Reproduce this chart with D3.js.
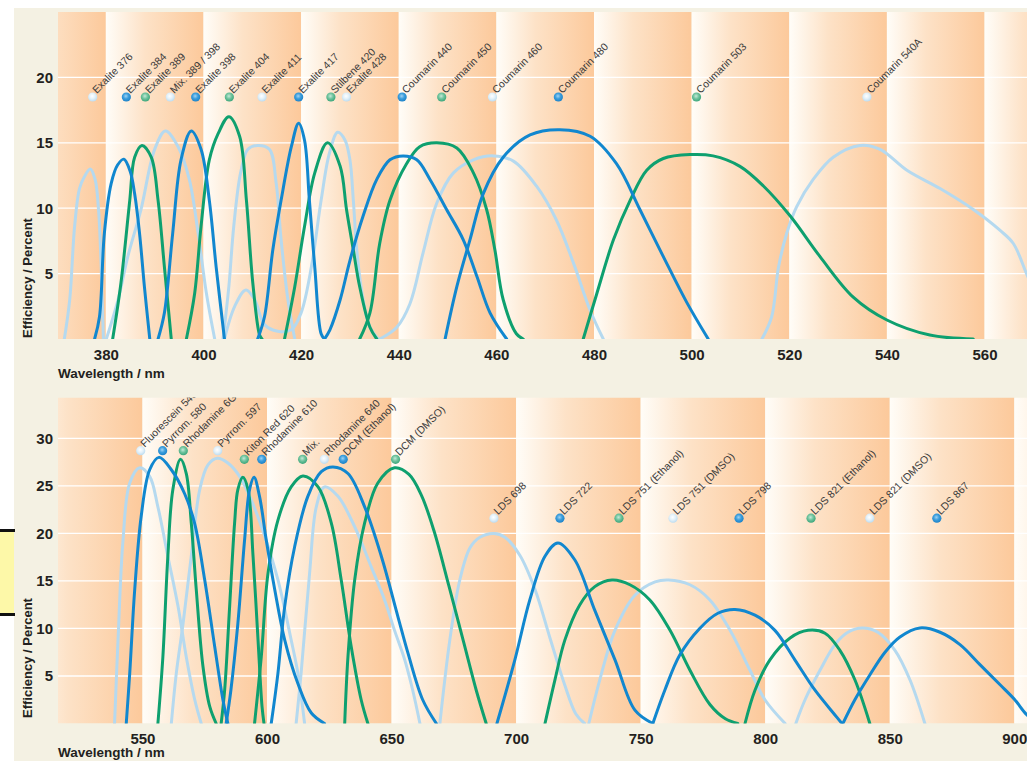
<!DOCTYPE html>
<html><head><meta charset="utf-8">
<script src="https://cdn.jsdelivr.net/npm/d3@7"></script>
<style>html,body{margin:0;padding:0;background:#fff;} svg{display:block;}</style>
</head><body>
<svg id="chart" width="1027" height="761"></svg>
<script>
// ---------------- DATA ----------------
// Top panel (wavelength nm, efficiency %)
const exalite376 = [[371.5,0],[372.6,3.0],[373.6,8.6],[374.6,11.5],[375.6,12.4],[376.8,13.0],[377.8,12.2],[378.5,9.9],[379.0,6.0],[379.5,0]];
const exalite384 = [[377.7,0],[378.7,1.7],[379.7,8.1],[381.1,11.9],[382.4,13.3],[383.7,13.75],[385.0,12.8],[385.9,11.1],[386.9,8.1],[387.9,4.0],[389.0,0]];
const exalite389 = [[381.4,0],[383.1,4.3],[384.9,10.6],[385.9,13.9],[387.4,14.8],[389.3,13.9],[390.7,10.6],[392.0,5.5],[393.4,0]];
const mix389398 = [[380.1,0],[382.5,3.0],[384.5,6.3],[387.2,9.9],[390.0,14.5],[392.2,15.9],[394.8,14.7],[397.1,12.2],[398.9,8.1],[400.6,3.5],[402.3,0]];
const exalite398 = [[390.7,0],[392.0,2.0],[393.7,8.1],[395.4,13.7],[397.5,15.9],[399.5,14.5],[401.2,10.6],[402.6,5.5],[404.3,0]];
const exalite404 = [[396.5,0],[398.2,3.5],[399.5,8.6],[401.2,13.7],[403.0,15.7],[405.2,17.0],[407.4,15.5],[408.8,10.6],[410.1,4.3],[411.5,0.3],[412.0,0]];
const exalite411 = [[404.0,0],[405.2,4.0],[406.2,8.6],[407.6,12.7],[409.1,14.5],[411.1,14.8],[413.5,14.5],[414.9,11.9],[415.9,7.6],[417.3,3.0],[418.7,0]];
const exalite417 = [[411.1,0],[412.5,1.7],[414.2,6.8],[415.9,10.6],[418.0,14.7],[419.5,16.5],[420.7,15.2],[421.7,10.6],[422.8,5.5],[424.1,0.4],[424.8,0]];
const stilbene420 = [[416.6,0],[418.7,4.0],[420.7,8.6],[422.8,12.7],[425.4,15.0],[428.0,13.2],[429.3,9.9],[430.7,6.8],[432.0,4.0],[434.1,0.9],[435.5,0]];
const exalite428 = [[404.3,0],[406.4,2.5],[408.7,3.75],[410.5,3.0],[412.5,1.1],[415.2,0.6],[418.0,0.7],[420.0,2.0],[422.1,5.5],[424.1,10.6],[425.8,14.2],[427.5,15.8],[429.0,15.2],[430.0,13.7],[430.7,10.6],[431.4,6.8],[432.7,3.0],[434.1,0.9],[435.8,0]];
const coumarin440 = [[424.8,0],[425.9,0.7],[428.0,3.0],[430.0,6.0],[432.7,9.4],[435.5,12.2],[438.2,13.7],[440.9,14.0],[443.7,13.7],[446.4,12.2],[449.8,9.9],[453.2,7.6],[456.0,4.8],[458.7,2.0],[462.1,0]];
const coumarin450 = [[432.0,0],[434.1,2.0],[436.1,7.3],[438.2,10.6],[441.6,13.4],[444.3,14.7],[447.8,15.0],[451.9,14.6],[455.3,12.7],[458.0,9.9],[459.7,6.8],[461.4,3.0],[464.1,0.4],[465.5,0]];
const coumarin460 = [[436.1,0],[439.6,0.9],[442.3,2.7],[445.0,6.6],[447.8,10.4],[451.2,12.7],[455.3,13.7],[459.4,14.0],[463.5,13.6],[468.2,11.7],[472.3,9.1],[475.8,5.8],[479.2,2.2],[481.9,0]];
const coumarin480 = [[449.5,0],[451.9,4.0],[454.6,7.6],[457.3,11.1],[461.4,13.9],[466.9,15.6],[473.0,16.0],[479.2,15.5],[484.6,13.4],[489.4,9.9],[494.2,6.3],[499.0,2.8],[503.4,0]];
const coumarin503 = [[477.8,0],[480.6,3.5],[484.0,7.6],[487.4,10.6],[490.8,12.9],[494.2,13.8],[499.7,14.1],[504.4,14.0],[509.9,13.2],[514.7,11.7],[520.2,9.4],[526.3,6.3],[533.1,3.2],[540.0,1.45],[548.8,0.3],[557.7,0]];
const coumarin540A = [[514.4,0],[516.4,1.7],[517.8,5.5],[519.5,8.1],[521.5,10.1],[524.9,12.2],[529.0,13.9],[534.5,14.8],[538.6,14.5],[544.1,12.9],[550.9,11.5],[557.7,9.9],[563.2,8.3],[565.9,7.3],[568.6,5.0],[572.0,2.0]];

// Bottom panel
const fluorescein548 = [[538.8,0],[540.2,8.8],[542.2,19.3],[544.9,25.3],[548.9,26.9],[552.9,26.0],[556.2,22.8],[560.2,17.6],[564.3,12.3],[567.6,7.0],[571.0,2.5],[573.6,0]];
const pyrromethene580 = [[543.5,0],[544.9,5.3],[546.9,14.1],[549.5,21.8],[552.9,26.7],[556.6,28.0],[561.6,26.7],[566.9,24.2],[570.9,21.1],[575.0,15.1],[579.0,8.1],[582.3,2.5],[584.3,0]];
const rhodamine6G = [[556.2,0],[558.2,7.0],[560.2,17.6],[562.2,24.6],[565.3,27.8],[567.6,26.3],[569.6,21.1],[571.6,14.1],[574.3,6.0],[577.0,1.8],[579.6,0]];
const pyrromethene597 = [[561.6,0],[563.6,5.3],[566.3,10.5],[569.6,17.6],[573.0,24.6],[576.3,27.2],[580.0,27.9],[584.3,27.4],[589.0,26.0],[593.7,23.5],[599.1,19.7],[604.4,15.1],[609.7,8.8],[612.4,5.3],[615.1,0]];
const kitonRed620 = [[581.6,0],[583.0,3.5],[585.0,12.3],[587.0,21.1],[588.3,24.6],[590.3,25.9],[592.4,24.6],[594.4,17.6],[596.4,8.8],[598.0,1.8],[598.8,0]];
const rhodamine610 = [[583.6,0],[585.5,3.5],[588.3,10.5],[591.0,19.3],[593.0,24.6],[594.8,25.9],[597.0,23.9],[599.7,19.3],[603.1,14.1],[607.1,8.8],[612.4,4.2],[617.8,1.1],[623.1,0]];
const mixRed = [[595.0,0],[597.7,7.0],[600.4,15.8],[604.4,21.4],[609.7,24.9],[614.4,26.05],[620.5,24.9],[625.8,21.1],[629.8,15.1],[633.8,8.1],[637.8,2.5],[640.5,0]];
const rhodamine640 = [[611.7,0],[613.7,5.3],[617.1,15.8],[619.8,22.8],[623.1,24.9],[628.5,23.9],[635.2,20.7],[641.8,16.5],[647.2,13.0],[651.2,9.8],[655.3,6.7],[658.5,3.5],[661.4,0]];
const dcmEthanol = [[601.7,0],[604.4,5.3],[607.1,12.3],[611.1,18.6],[616.4,23.9],[621.8,26.5],[626.5,27.0],[632.5,26.3],[639.2,22.8],[645.9,17.6],[652.6,11.2],[656.6,7.4],[662.5,2.5],[668.0,0]];
const dcmDMSO = [[631.2,0],[632.5,7.0],[635.2,15.1],[639.2,21.1],[644.5,25.3],[651.2,26.9],[657.0,26.2],[662.0,24.0],[667.0,20.3],[673.0,14.5],[679.0,8.5],[684.0,3.5],[688.0,0]];
const lds698 = [[669.4,0],[673.4,8.8],[677.4,15.1],[681.5,18.5],[685.5,19.6],[691.1,20.0],[695.5,19.6],[701.5,17.7],[707.6,14.1],[713.6,9.0],[719.6,4.0],[724.0,1.0],[727.5,0]];
const lds722 = [[692.3,0],[699.5,6.7],[705.5,13.0],[711.6,17.6],[716.8,19.0],[723.6,17.2],[731.6,11.9],[739.7,6.7],[747.7,1.4],[754.9,0]];
const lds751Ethanol = [[711.6,0],[715.6,4.6],[719.6,8.8],[725.6,12.5],[731.6,14.4],[738.5,15.1],[745.7,14.6],[753.7,13.0],[761.8,9.8],[769.8,5.6],[777.8,2.0],[784.0,0.5],[789.0,0]];
const lds751DMSO = [[729.2,0],[733.6,4.6],[739.7,9.8],[747.7,13.5],[755.8,14.9],[761.2,15.1],[769.8,14.6],[777.8,13.0],[785.9,9.8],[793.9,5.6],[799.9,2.5],[808.0,0]];
const lds798 = [[754.9,0],[759.7,3.5],[765.7,7.2],[773.7,10.0],[781.0,11.6],[787.9,12.0],[795.9,11.4],[803.9,9.8],[811.9,6.7],[820.0,3.5],[828.0,0.9],[830.8,0]];
const lds821Ethanol = [[791.9,0],[795.9,3.5],[801.9,6.7],[810.0,9.0],[817.2,9.8],[824.0,9.5],[830.0,7.7],[836.0,4.6],[842.0,0]];
const lds821DMSO = [[812.3,0],[816.0,2.5],[822.0,5.6],[828.0,8.3],[833.2,9.6],[838.9,10.05],[845.2,9.6],[852.1,7.7],[858.1,4.6],[864.1,0]];
const lds867 = [[831.2,0],[836.0,2.5],[842.0,5.1],[848.1,7.5],[854.1,9.1],[862.1,10.05],[870.2,9.6],[878.2,8.3],[886.2,6.2],[894.2,4.1],[900.2,2.5],[905.1,0.9],[910.0,0]];

// Series lists with colour type (LB = light blue, DB = dark blue, G = green)
const topSeries = [
  [exalite376,"LB"],[mix389398,"LB"],[exalite411,"LB"],[exalite428,"LB"],[coumarin460,"LB"],[coumarin540A,"LB"],
  [exalite389,"G"],[exalite404,"G"],[stilbene420,"G"],[coumarin450,"G"],[coumarin503,"G"],
  [exalite384,"DB"],[exalite398,"DB"],[exalite417,"DB"],[coumarin440,"DB"],[coumarin480,"DB"]
];
const bottomSeries = [
  [fluorescein548,"LB"],[pyrromethene597,"LB"],[rhodamine640,"LB"],[lds698,"LB"],[lds751DMSO,"LB"],[lds821DMSO,"LB"],
  [rhodamine6G,"G"],[kitonRed620,"G"],[mixRed,"G"],[dcmDMSO,"G"],[lds751Ethanol,"G"],[lds821Ethanol,"G"],
  [pyrromethene580,"DB"],[rhodamine610,"DB"],[dcmEthanol,"DB"],[lds722,"DB"],[lds798,"DB"],[lds867,"DB"]
];

// Marker labels
const topMarkerNames = ["Exalite 376","Exalite 384","Exalite 389","Mix. 389 / 398","Exalite 398","Exalite 404","Exalite 411","Exalite 417","Stilbene 420","Exalite 428","Coumarin 440","Coumarin 450","Coumarin 460","Coumarin 480","Coumarin 503","Coumarin 540A"];
const topMarkerNm = [377.3,384.2,388.1,393.2,398.4,405.3,412.0,419.5,426.1,429.3,440.7,448.8,459.2,472.7,501.0,535.9];
const topMarkerLevel = [18.5,18.5,18.5,18.5,18.5,18.5,18.5,18.5,18.5,18.5,18.5,18.5,18.5,18.5,18.5,18.5];
const topMarkerType = ["LB","DB","G","LB","DB","G","LB","DB","G","LB","DB","G","LB","DB","G","LB"];

const bottomMarkerNames = ["Fluorescein 548","Pyrrom. 580","Rhodamine 6G","Pyrrom. 597","Kiton Red 620","Rhodamine 610","Mix.","Rhodamine 640","DCM (Ethanol)","DCM (DMSO)","LDS 698","LDS 722","LDS 751 (Ethanol)","LDS 751 (DMSO)","LDS 798","LDS 821 (Ethanol)","LDS 821 (DMSO)","LDS 867"];
const bottomMarkerNm = [549.3,558.1,566.4,580.2,590.9,597.9,614.3,623.0,630.6,651.6,691.1,717.6,741.3,763.0,789.5,818.4,842.0,868.9];
const bottomMarkerLevel = [28.7,28.7,28.7,28.7,27.8,27.8,27.8,27.8,27.8,27.8,21.6,21.6,21.6,21.6,21.6,21.6,21.6,21.6];
const bottomMarkerType = ["LB","DB","G","LB","G","DB","G","LB","DB","G","LB","DB","G","LB","DB","G","LB","DB"];

// Axis ticks
const topXTicks = [380,400,420,440,460,480,500,520,540,560];
const topYTicks = [5,10,15,20];
const bottomXTicks = [550,600,650,700,750,800,850,900];
const bottomYTicks = [5,10,15,20,25,30];

// ---------------- DRAW ----------------
const lineColor = {LB:"#b5d9ef", DB:"#1187cf", G:"#0ea06f"};
const dotStops = {LB:["#ffffff","#e4f1f9","#bcdcf0"], DB:["#9fd2f3","#3a9ddc","#1c82c8"], G:["#c4e9d7","#6fc39d","#3aa57a"]};
const FONT = "'Liberation Sans', Arial, sans-serif";

const svg = d3.select("#chart");
const defs = svg.append("defs");
const bg = defs.append("linearGradient").attr("id","band").attr("x1","0").attr("x2","1").attr("y1","0").attr("y2","0");
bg.append("stop").attr("offset","0%").attr("stop-color","#fffdf8");
bg.append("stop").attr("offset","40%").attr("stop-color","#fde2c7");
bg.append("stop").attr("offset","100%").attr("stop-color","#fcc99b");
Object.keys(dotStops).forEach(k => {
  const g = defs.append("radialGradient").attr("id","dot-"+k).attr("cx","45%").attr("cy","40%").attr("r","60%");
  g.append("stop").attr("offset","0%").attr("stop-color",dotStops[k][0]);
  g.append("stop").attr("offset","50%").attr("stop-color",dotStops[k][1]);
  g.append("stop").attr("offset","100%").attr("stop-color",dotStops[k][2]);
});

svg.append("rect").attr("width",1027).attr("height",761).attr("fill","#ffffff");
svg.append("rect").attr("x",14).attr("y",8).attr("width",1013).attr("height",753).attr("fill","#f4f1e3");
// yellow side box
svg.append("rect").attr("x",0).attr("y",530).attr("width",14).attr("height",85).attr("fill","#fdf8a8");
svg.append("rect").attr("x",0).attr("y",529).attr("width",15).attr("height",3).attr("fill","#111");
svg.append("rect").attr("x",0).attr("y",613).attr("width",15).attr("height",3).attr("fill","#111");

function panel(cfg, id) {
  const xs = d3.scaleLinear().domain(cfg.xDomain).range([58, 1027]);
  const ys = d3.scaleLinear().domain([0, cfg.yMax]).range([cfg.bottom, cfg.top]);
  defs.append("clipPath").attr("id","clip"+id).append("rect")
    .attr("x",58).attr("y",cfg.top).attr("width",1027-58).attr("height",cfg.bottom-cfg.top);
  const g = svg.append("g");
  const plot = g.append("g").attr("clip-path","url(#clip"+id+")");
  const bands = d3.range(cfg.bandStart, cfg.xDomain[1], cfg.bandStep);
  plot.selectAll("rect.band").data(bands).join("rect").attr("class","band")
    .attr("x", d => xs(d)).attr("y", cfg.top)
    .attr("width", d => xs(d + cfg.bandStep) - xs(d)).attr("height", cfg.bottom - cfg.top)
    .attr("fill","url(#band)");
  plot.selectAll("line.grid").data(cfg.yTicks).join("line").attr("class","grid")
    .attr("x1",58).attr("x2",1027).attr("y1", d => ys(d)).attr("y2", d => ys(d))
    .attr("stroke","#ffffff").attr("stroke-width",1.3);
  const line = d3.line().x(d => xs(d[0])).y(d => ys(d[1])).curve(d3.curveCatmullRom.alpha(0.5));
  plot.selectAll("path.curve").data(cfg.series).join("path").attr("class","curve")
    .attr("d", d => line(d[0])).attr("fill","none")
    .attr("stroke", d => lineColor[d[1]]).attr("stroke-width",3)
    .attr("stroke-linejoin","round").attr("stroke-linecap","round");
  const markers = cfg.names.map((n,i) => ({name:n, nm:cfg.nm[i], lvl:cfg.lvl[i], type:cfg.type[i]}));
  const mg = plot.selectAll("g.mk").data(markers).join("g").attr("class","mk")
    .attr("transform", d => `translate(${xs(d.nm)},${ys(d.lvl)})`);
  mg.append("text").attr("transform","translate(4,-3) rotate(-45)")
    .attr("font-family",FONT).attr("font-size",10.5).attr("fill","#3b3b3b").text(d => d.name);
  mg.append("circle").attr("r",4.6).attr("fill", d => "url(#dot-"+d.type+")");

  const xa = g.append("g").attr("transform",`translate(0,${cfg.bottom})`)
    .call(d3.axisBottom(xs).tickValues(cfg.xTicks).tickSize(0).tickPadding(cfg.xPad).tickFormat(d3.format("d")));
  xa.select(".domain").remove();
  xa.selectAll("text").attr("font-family",FONT).attr("font-size",15).attr("font-weight","bold").attr("fill","#231f20");
  const ya = g.append("g").attr("transform","translate(58,0)")
    .call(d3.axisLeft(ys).tickValues(cfg.yTicks).tickSize(0).tickPadding(5).tickFormat(d3.format("d")));
  ya.select(".domain").remove();
  ya.selectAll("text").attr("font-family",FONT).attr("font-size",15).attr("font-weight","bold").attr("fill","#231f20");
  g.append("text").attr("x",58).attr("y",cfg.xLabelY).attr("font-family",FONT).attr("font-size",13.5)
    .attr("font-weight","bold").attr("fill","#231f20").text("Wavelength / nm");
  g.append("text").attr("transform",`translate(32,${cfg.yLabelY}) rotate(-90)`).attr("font-family",FONT)
    .attr("font-size",13).attr("font-weight","bold").attr("fill","#231f20").text("Efficiency / Percent");
}

panel({xDomain:[370.2,568.7], yMax:25, top:12, bottom:339, bandStart:360, bandStep:20,
  xTicks:topXTicks, yTicks:topYTicks, series:topSeries, names:topMarkerNames, nm:topMarkerNm,
  lvl:topMarkerLevel, type:topMarkerType, xPad:10, xLabelY:378, yLabelY:338}, "T");
panel({xDomain:[516.1,905.1], yMax:34.3, top:397.5, bottom:723.5, bandStart:500, bandStep:50,
  xTicks:bottomXTicks, yTicks:bottomYTicks, series:bottomSeries, names:bottomMarkerNames, nm:bottomMarkerNm,
  lvl:bottomMarkerLevel, type:bottomMarkerType, xPad:9.5, xLabelY:757, yLabelY:718}, "B");
</script>
</body></html>
